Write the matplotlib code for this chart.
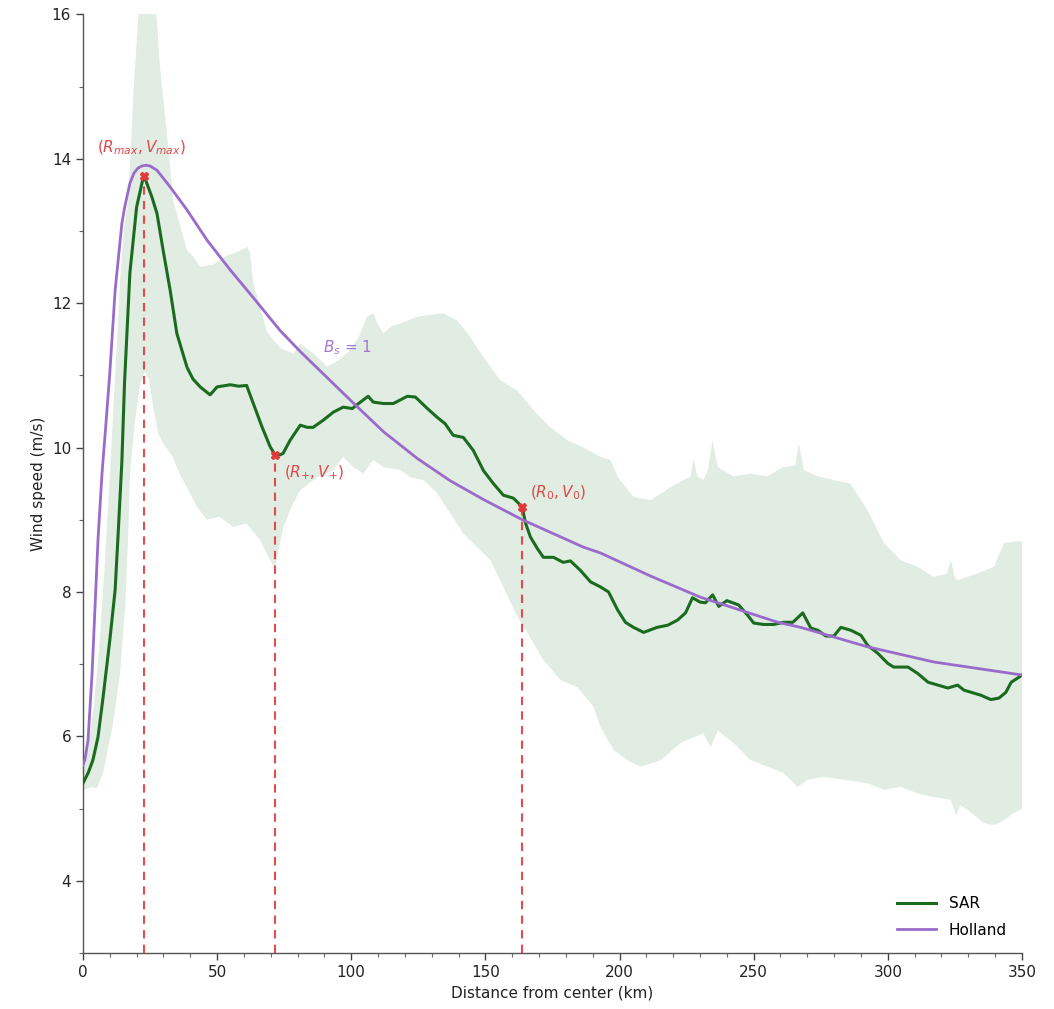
import numpy as np
import matplotlib
matplotlib.use("Agg")
import matplotlib.pyplot as plt

# ---------------- data ----------------
sar_x = [0, 2, 3.7, 5.6, 7.5, 10, 12, 13, 14.5, 15.5, 17.5, 20, 22.4, 22.8, 25.7, 27.6, 29.9,
         32.5, 35, 38.8, 41, 43.7, 47.4, 50, 54.9, 58, 61, 63.4, 66.8, 69.8, 71.6, 73.5, 74.6,
         77.2, 81, 83.6, 85.8, 89.6, 93.3, 97, 100.4, 102, 106.3, 108.2, 112, 115.7, 120.9,
         123.9, 128.4, 132, 135, 138, 141.8, 145.5, 149.3, 153, 156.7, 160.4, 163.7, 165,
         166.8, 169.4, 171.6, 175.4, 179, 181.7, 185.4, 189.2, 192.9, 195.9, 199.3, 202.2,
         205.2, 209, 214, 218, 221.6, 224.6, 227.2, 230, 232, 234.7, 237, 240, 244.4, 247.7,
         250, 253.7, 257.5, 261.2, 264.6, 268.3, 271.3, 273.9, 276.9, 279.9, 282.5, 286.2,
         290, 292.5, 296.3, 300, 302.2, 307.5, 311.2, 315, 318.7, 322.4, 326, 328.4, 332,
         334.7, 338.4, 341.4, 344, 346, 348.5, 350]
sar_v = [5.35, 5.5, 5.67, 5.99, 6.54, 7.33, 8.03, 8.72, 9.8, 10.9, 12.42, 13.33, 13.73, 13.76,
         13.47, 13.24, 12.73, 12.18, 11.58, 11.11, 10.95, 10.84, 10.73, 10.84, 10.87, 10.85,
         10.86, 10.62, 10.28, 10.01, 9.90, 9.90, 9.92, 10.1, 10.31, 10.28, 10.28, 10.38, 10.49,
         10.56, 10.54, 10.59, 10.71, 10.63, 10.61, 10.61, 10.71, 10.7, 10.54, 10.42, 10.33,
         10.17, 10.14, 9.96, 9.68, 9.5, 9.34, 9.30, 9.18, 8.95, 8.76, 8.6, 8.48, 8.48, 8.41,
         8.43, 8.30, 8.14, 8.07, 8.0, 7.75, 7.58, 7.51, 7.44, 7.51, 7.54, 7.61, 7.71, 7.92,
         7.86, 7.85, 7.96, 7.8, 7.88, 7.82, 7.68, 7.57, 7.55, 7.55, 7.58, 7.58, 7.71, 7.5,
         7.47, 7.39, 7.39, 7.51, 7.47, 7.4, 7.26, 7.15, 7.01, 6.96, 6.96, 6.87, 6.75, 6.71,
         6.67, 6.71, 6.64, 6.6, 6.57, 6.51, 6.53, 6.61, 6.75, 6.81, 6.85]

holland_x = [0, 0.7, 1.9, 3.4, 4.5, 5.6, 7.1, 8.5, 10, 12, 14.5, 15.5, 17.5, 19, 20.5, 22,
             23.5, 25, 27.6, 32.5, 38.8, 46.3, 54.9, 63.4, 73.5, 81, 89.6, 100.7, 112, 124.6,
             136.9, 149.3, 163.8, 186.6, 192.9, 211.6, 230, 259, 267.5, 292.5, 317.2, 350]
holland_v = [5.6, 5.67, 5.95, 6.87, 7.79, 8.72, 9.64, 10.3, 11.03, 12.18, 13.1, 13.32, 13.66,
             13.8, 13.87, 13.9, 13.91, 13.9, 13.84, 13.61, 13.29, 12.87, 12.46, 12.08, 11.62,
             11.33, 11.02, 10.62, 10.22, 9.85, 9.54, 9.28, 9.0, 8.62, 8.54, 8.22, 7.93, 7.58,
             7.51, 7.24, 7.03, 6.85]

band_up_x = [0, 2, 4, 6, 8, 10, 12, 14, 15.5, 16.9, 18.7, 20, 21.3, 24, 26.8, 28.7, 31.3,
             33.6, 36, 38.8, 41, 43.7, 46.3, 48.5, 53.7, 57, 61.2, 62.3, 63.4, 66, 68.6, 73.5,
             78.4, 81, 86, 91, 95, 99.6, 103, 105.8, 108.2, 110, 112, 115, 118.3, 124.6, 130,
             134.3, 139.5, 144, 149.3, 155.6, 161.9, 167.9, 174.2, 180.6, 186.6, 192.9, 196.6,
             199.3, 205.2, 211.6, 219, 223.9, 226.5, 227.6, 229, 231.3, 233, 234.7, 236.6,
             242.5, 248.9, 255, 261, 265.5, 266.8, 268.7, 274, 279.9, 286, 292.5, 298.5, 304.8,
             311, 317, 322, 323.5, 325, 326, 333.6, 339.6, 343.3, 347.8, 350]
band_up_v = [5.7, 5.9, 6.4, 7.2, 8.3, 9.6, 11.0, 12.4, 13.1, 13.43, 14.81, 15.6, 16.3, 16.6,
             16.3, 15.27, 14.35, 13.43, 13.1, 12.73, 12.65, 12.5, 12.52, 12.53, 12.66, 12.7,
             12.78, 12.7, 12.3, 11.95, 11.6, 11.38, 11.3, 11.44, 11.3, 11.12, 11.2, 11.35,
             11.55, 11.81, 11.86, 11.7, 11.58, 11.68, 11.72, 11.81, 11.84, 11.86, 11.76, 11.55,
             11.25, 10.93, 10.79, 10.52, 10.28, 10.1, 10.0, 9.87, 9.83, 9.59, 9.32, 9.27, 9.45,
             9.55, 9.6, 9.85, 9.6, 9.55, 9.7, 10.1, 9.73, 9.6, 9.64, 9.6, 9.73, 9.75, 10.06,
             9.69, 9.6, 9.55, 9.5, 9.13, 8.68, 8.44, 8.35, 8.21, 8.25, 8.44, 8.2, 8.16, 8.26,
             8.35, 8.68, 8.70, 8.7]

band_lo_x = [0, 3, 5.2, 7.5, 11.2, 13.8, 15.7, 16.8, 17.5, 19.5, 21.5, 23, 24.5, 26.5, 28,
             30, 33, 36, 42.5, 46.2, 51, 56, 61, 66, 69.8, 71.6, 74.7, 78, 81, 87.3, 93.3, 97,
             100.7, 104.5, 108.2, 112, 118.3, 122, 126.9, 132, 136.9, 141.8, 147, 151.9, 156.7,
             161.9, 165.7, 171.6, 178, 184.3, 190.3, 192.9, 197.8, 203, 207.8, 215.3, 222.8,
             227.6, 231.3, 234, 236.6, 242.5, 248.9, 255.2, 261.2, 266.4, 270.1, 276.1, 283.6,
             292.5, 298.5, 304.8, 311.2, 317.2, 323.5, 325.4, 327, 329.9, 335.8, 339.6, 343.3,
             347, 350]
band_lo_v = [5.25, 5.3, 5.28, 5.49, 6.18, 6.87, 7.79, 8.72, 9.64, 10.4, 10.9, 11.05, 10.95,
             10.5, 10.2, 10.05, 9.9, 9.64, 9.18, 9.0, 9.04, 8.9, 8.95, 8.72, 8.44, 8.33, 8.9,
             9.2, 9.41, 9.59, 9.69, 9.87, 9.73, 9.64, 9.83, 9.73, 9.69, 9.59, 9.55, 9.37, 9.09,
             8.81, 8.62, 8.44, 8.07, 7.66, 7.43, 7.06, 6.78, 6.68, 6.41, 6.13, 5.81, 5.67, 5.58,
             5.67, 5.91, 5.99, 6.04, 5.85, 6.08, 5.91, 5.67, 5.58, 5.49, 5.30, 5.40, 5.44, 5.40,
             5.35, 5.26, 5.30, 5.21, 5.16, 5.12, 4.91, 5.05, 4.98, 4.80, 4.77, 4.84, 4.94, 5.0]

key_r = [22.8, 71.6, 163.7]
key_v = [13.76, 9.90, 9.18]
key_labels = [r"$(R_{max}, V_{max})$", r"$(R_{+}, V_{+})$", r"$(R_0, V_0)$"]
key_label_pos = [(5.2, 14.15), (75.0, 9.65), (166.8, 9.38)]

# ---------------- figure ----------------
fig = plt.figure(figsize=(10.54, 10.09), dpi=100)
ax = fig.add_axes([0.0787, 0.0555, 0.8909, 0.9303])

green = "#1a6b1f"
purple = "#9a6bcb"
red = "#e03a3a"

ax.fill(np.concatenate([band_up_x, band_lo_x[::-1]]),
        np.concatenate([band_up_v, band_lo_v[::-1]]),
        facecolor="#e1ece2", edgecolor="none", zorder=1)

ax.plot(sar_x, sar_v, color=green, lw=2.2, label="SAR", zorder=3)
ax.plot(holland_x, holland_v, color=purple, lw=2.0, label="Holland", zorder=4)

for r, v in zip(key_r, key_v):
    ax.vlines(r, 3, v, colors=red, linestyles=(0, (4, 3)), lw=1.5, alpha=0.9, zorder=5)
ax.plot(key_r, key_v, linestyle="none", marker="X", ms=6, color=red, zorder=6)

for lab, (tx, ty) in zip(key_labels, key_label_pos):
    ax.text(tx, ty, lab, color="#e04848", fontsize=11, va="center", ha="left", zorder=7)

ax.text(89.6, 11.38, r"$B_s$ = 1", color=purple, fontsize=11, va="center", ha="left",
        alpha=0.9, zorder=7)

ax.set_xlim(0, 350)
ax.set_ylim(3, 16)
ax.set_xticks(np.arange(0, 351, 50))
ax.set_yticks(np.arange(4, 17, 2))
ax.set_xticks(np.arange(0, 351, 10), minor=True)
ax.set_yticks(np.arange(3, 17, 1), minor=True)
ax.tick_params(axis="both", which="major", length=5, width=1, labelsize=11,
               colors="#444444", labelcolor="#222222")
ax.tick_params(axis="both", which="minor", length=3, width=0.8, colors="#666666")

for s in ["top", "right"]:
    ax.spines[s].set_visible(False)
for s in ["left", "bottom"]:
    ax.spines[s].set_color("#555555")
    ax.spines[s].set_linewidth(1.0)

ax.set_xlabel("Distance from center (km)", fontsize=11, color="#222222", labelpad=4)
ax.set_ylabel("Wind speed (m/s)", fontsize=11, color="#222222", labelpad=4)

leg = ax.legend(loc="lower right", frameon=False, fontsize=11, handlelength=2.6,
                labelspacing=0.75, borderaxespad=0.6)

fig.savefig("out.png", dpi=100)
